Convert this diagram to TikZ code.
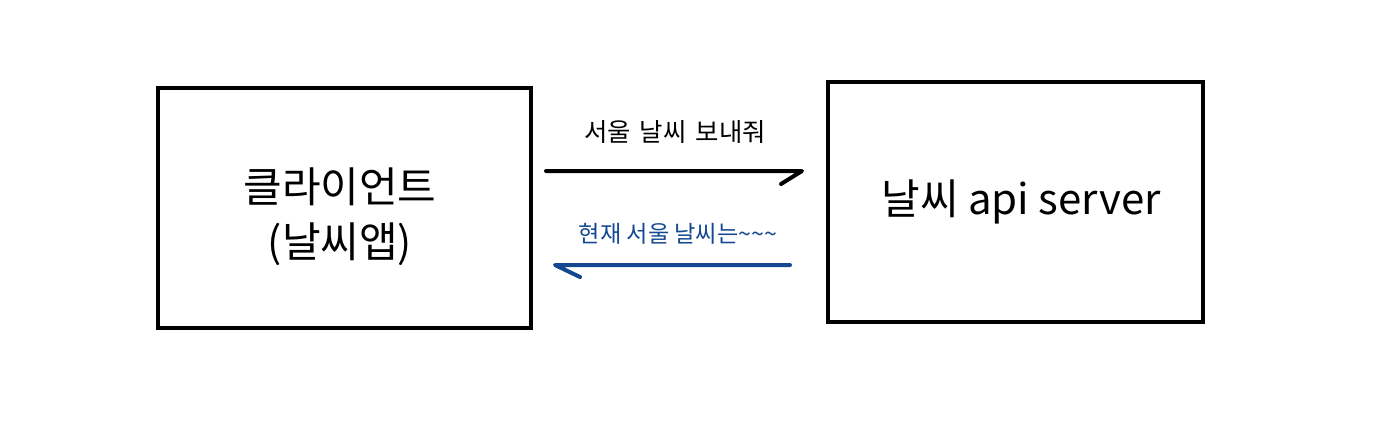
\documentclass[tikz,border=0pt]{standalone}
\usepackage{fontspec}
\setmainfont{Noto Sans CJK KR}
\definecolor{replyblue}{RGB}{20,72,145}
\begin{document}
\begin{tikzpicture}[x=0.5pt,y=-0.5pt,
  box/.style={draw=black,line width=2pt,inner sep=0pt,anchor=north west},
  bigtxt/.style={font=\fontsize{21pt}{27.5pt}\selectfont,align=center,inner sep=0pt},
  smalltxt/.style={font=\fontsize{11.6pt}{14pt}\selectfont,inner sep=0pt},
  conn/.style={line width=2pt,line cap=round,line join=round}]
\useasboundingbox (0,0) rectangle (1388,420);
\draw[box] (158,88) rectangle (531,328);
\draw[box] (828,82) rectangle (1203,322);
\node[bigtxt] (client) at (340,217) {클라이언트\\(날씨앱)};
\node[bigtxt] (server) at (1021,202) {날씨 api server};
\node[smalltxt,font=\fontsize{12.7pt}{15pt}\selectfont] (req) at (675,132) {서울\hspace{4.5pt}날씨\hspace{4.5pt}보내줘};
\node[smalltxt,text=replyblue] (resp) at (678,234) {현재 서울 날씨는\textasciitilde\textasciitilde\textasciitilde};
\coordinate (a1) at (546,171);
\coordinate (a2) at (802,171);
\coordinate (b1) at (790,265);
\coordinate (b2) at (555,265);
\draw[conn] (a1) -- (a2) -- ++(-21,13);
\draw[conn,replyblue] (b1) -- (b2) -- ++(25,12);
\end{tikzpicture}
\end{document}
